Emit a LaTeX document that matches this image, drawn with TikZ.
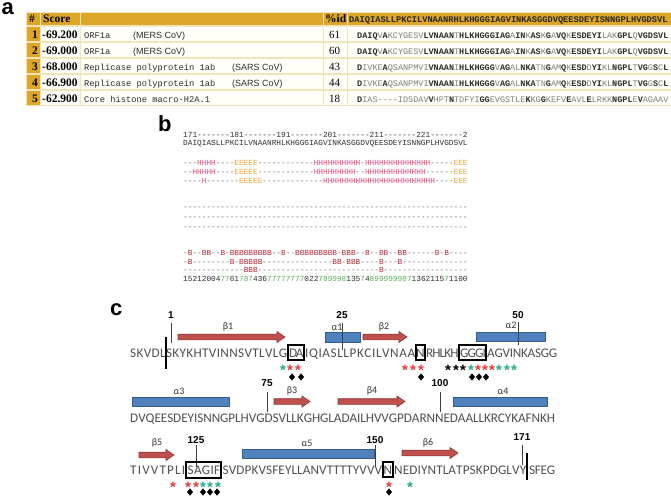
\documentclass[tikz,border=0pt]{standalone}
\usepackage{fontspec}
\setmainfont{Liberation Serif}
\setsansfont{Liberation Sans}
\setmonofont{Liberation Mono}
\newfontfamily\calfont{Carlito}
\usepackage{tikz}

\definecolor{gold}{RGB}{221,166,40}
\definecolor{cellline}{RGB}{242,228,184}
\definecolor{cellfill}{RGB}{255,254,248}
\definecolor{seqdark}{RGB}{45,45,45}
\definecolor{seqlight}{RGB}{125,125,125}
\definecolor{hcol}{RGB}{228,70,125}
\definecolor{ecol}{RGB}{240,160,50}
\definecolor{bcol}{RGB}{180,40,55}
\definecolor{ncol}{RGB}{85,175,85}
\definecolor{dashcol}{RGB}{110,110,110}
\definecolor{seqgray}{RGB}{80,80,80}
\definecolor{strandred}{RGB}{192,80,77}
\definecolor{stranddark}{RGB}{140,56,54}
\definecolor{helixblue}{RGB}{79,129,189}
\definecolor{helixdark}{RGB}{56,93,138}
\definecolor{starred}{RGB}{225,60,60}
\definecolor{starteal}{RGB}{40,170,140}

% residues: capitals bold (identical), small letters light
\def\idloop#1{\ifx#1\relax\else\idchar#1\expandafter\idloop\fi}
\def\idchar#1{\ifnum`#1>`Z\relax{\color{seqlight}\uppercase{#1}}\else\if#1-{\color{seqlight}-}\else{\bfseries\color{seqdark}#1}\fi\fi}
\newcommand\idseq[1]{\idloop#1\relax}
% secondary structure strings
\def\ssloop#1{\ifx#1\relax\else\sschar#1\expandafter\ssloop\fi}
\def\sschar#1{\if#1H\textcolor{hcol}{H}\else\if#1E\textcolor{ecol}{E}\else\if#1B\textcolor{bcol}{B}\else\textcolor{dashcol}{#1}\fi\fi\fi}
\newcommand\ssseq[1]{\ssloop#1\relax}
% reliability digits
\def\nloop#1{\ifx#1\relax\else\nchar#1\expandafter\nloop\fi}
\def\nchar#1{\ifnum`#1>`6\relax\textcolor{ncol}{#1}\else\textcolor{seqdark}{#1}\fi}
\newcommand\numseq[1]{\nloop#1\relax}
% letters spread over a given width
\def\sploop#1{\ifx#1\relax\unskip\else#1\hskip0pt plus1fil minus1fil\relax\expandafter\sploop\fi}
\newcommand\spreadseq[2]{\hbox to #1{\sploop#2\relax}}

\newcommand\strandarrow[3]{%
\draw[strand] (#1,{#3-2.8}) -- ({#2-8},{#3-2.8}) -- ({#2-8},{#3-5.5}) -- (#2,#3)
  -- ({#2-8},{#3+5.5}) -- ({#2-8},{#3+2.8}) -- (#1,{#3+2.8}) -- cycle;}

\begin{document}
\begin{tikzpicture}[x=1pt,y=-1pt,
  lbl/.style={font=\sffamily\bfseries\fontsize{22}{22}\selectfont,inner sep=0pt,anchor=base west},
  hdr/.style={font=\rmfamily\bfseries\fontsize{11.5}{12}\selectfont,inner sep=0pt,anchor=base west},
  pid/.style={font=\rmfamily\fontsize{11}{12}\selectfont,inner sep=0pt,anchor=base west},
  mono/.style={font=\ttfamily\fontsize{8.5}{10}\selectfont,text=seqdark,inner sep=0pt,anchor=base west},
  org/.style={font=\sffamily\fontsize{9}{10}\selectfont,text=seqdark,inner sep=0pt,anchor=base west},
  bmono/.style={font=\ttfamily\fontsize{7.77}{9}\selectfont,inner sep=0pt,anchor=base west},
  cseq/.style={font=\calfont\fontsize{13.2}{15}\selectfont,text=seqgray,inner sep=0pt,anchor=base west},
  resnum/.style={font=\sffamily\bfseries\fontsize{10}{10}\selectfont,inner sep=0pt},
  sslbl/.style={font=\calfont\fontsize{10}{10}\selectfont,inner sep=0pt,text=black!80},
  strand/.style={fill=strandred,draw=stranddark,line width=0.6pt},
  helix/.style={fill=helixblue,draw=helixdark,line width=0.6pt},
  resline/.style={line width=0.6pt,draw=black!75},
  sitebox/.style={draw=black,line width=1.1pt},
  astr/.style={font=\sffamily\bfseries\fontsize{15}{15}\selectfont,inner sep=0pt,anchor=base},
]
\useasboundingbox (0,0) rectangle (671,497);
\fill[white] (0,0) rectangle (671,497);

%% a: hit table
\node[lbl] (la) at (1.5,15) {a};
\fill[cellline] (26,12) rectangle (671,106);
\foreach \xa/\xb in {27/39.5,40.5/79.5,80.5/323,324/347,348/671}
  \fill[gold] (\xa,13) rectangle (\xb,25.5);
\foreach \r in {0,...,4}{
  \fill[gold] (27,{27+16*\r}) rectangle (39.5,{41.5+16*\r});
  \foreach \xa/\xb in {40.5/79.5,80.5/323,324/347,348/671}
    \fill[cellfill] (\xa,{27+16*\r}) rectangle (\xb,{41.5+16*\r});
}
\node[hdr] (hnum) at (29,23) {\#};
\node[hdr] (hscore) at (43,23) {Score};
\node[hdr] (hpid) at (325,23) {\%id};
\node[mono,font=\ttfamily\bfseries\fontsize{8.7}{10}\selectfont,text=black!85] (hseq) at (349,22.5)
  {DAIQIASLLPKCILVNAANRHLKHGGGIAGVINKASGGDVQEESDEYISNNGPLHVGDSVL};
\foreach \r/\sc/\pc in {1/-69.200/61,2/-69.000/60,3/-68.000/43,4/-66.900/44,5/-62.900/18}{
  \node[hdr] (num\r) at (32,{22.5+16*\r}) {\r};
  \node[hdr] (score\r) at (42,{22.5+16*\r}) {\sc};
  \node[pid] (pid\r) at (329,{22.5+16*\r}) {\pc};
}
\node[mono,font=\ttfamily\fontsize{8.75}{10}\selectfont] (desc1) at (84,38.5) {ORF1a};
\node[org] (org1) at (133,38.5) {(MERS CoV)};
\node[mono,font=\ttfamily\fontsize{8.75}{10}\selectfont] (desc2) at (84,54.5) {ORF1a};
\node[org] (org2) at (133,54.5) {(MERS CoV)};
\node[mono,font=\ttfamily\fontsize{8.75}{10}\selectfont] (desc3) at (84,70.5) {Replicase polyprotein 1ab};
\node[org] (org3) at (232,70.5) {(SARS CoV)};
\node[mono,font=\ttfamily\fontsize{8.75}{10}\selectfont] (desc4) at (84,86.5) {Replicase polyprotein 1ab};
\node[org] (org4) at (232,86.5) {(SARS CoV)};
\node[mono,font=\ttfamily\fontsize{8.75}{10}\selectfont] (desc5) at (84,102.5) {Core histone macro-H2A.1};
\node[mono] (seq1) at (357,38.5) {\idseq{DAIQvAkcygesvLVNAANtHLKHGGGIAGaINkASkGaVQkESDEYIlakGPLqVGDSVL}};
\node[mono] (seq2) at (357,54.5) {\idseq{DAIQvAkcygesvLVNAANtHLKHGGGIAGaINkASkGaVQkESDEYIlakGPLqVGDSVL}};
\node[mono] (seq3) at (357,70.5) {\idseq{DivkeAqsanpmviVNAANiHLKHGGGvAGalNKAtnGamQkESDdYIklNGPLtVGgScL}};
\node[mono] (seq4) at (357,86.5) {\idseq{DivkeAqsanpmviVNAANiHLKHGGGvAGalNKAtnGamQkESDdYIklNGPLtVGgScL}};
\node[mono] (seq5) at (357,102.5) {\idseq{Dias----idsdavVhptNtdfyiGGevgstleKkgGkefvEavlElrkkNGPLeVagaav}};

%% b: secondary structure predictions
\node[lbl] (lb) at (158,132) {b};
\node[bmono,text=seqdark] (ruler) at (183,137.5) {171-------181-------191-------201-------211-------221-------2};
\node[bmono,text=seqdark] (query) at (183,146) {DAIQIASLLPKCILVNAANRHLKHGGGIAGVINKASGGDVQEESDEYISNNGPLHVGDSVL};
\node[bmono] (ss1) at (183,166) {\ssseq{---HHHH----EEEEE------------HHHHHHHHHH-HHHHHHHHHHHHHH-----EEE}};
\node[bmono] (ss2) at (183,174.5) {\ssseq{--HHHHH----EEEEE------------HHHHHHHHH--HHHHHHHHHHHHH------EEE}};
\node[bmono] (ss3) at (183,183) {\ssseq{----H-------EEEEE-------------HHHHHHHHHHHHHHHHHHHHHHHH----EEE}};
\foreach \y [count=\k] in {209,219,229}
  \node[bmono,text=dashcol] (dl\k) at (183,\y) {-------------------------------------------------------------};
\node[bmono] (bb1) at (183,255.5) {\ssseq{-B--BB--B-BBBBBBBBB--B--BBBBBBBBB-BBB--B--BB--BB------B-B----}};
\node[bmono] (bb2) at (183,264) {\ssseq{-B--------B-BBBBB---------------BB-BBB----B---B--------------}};
\node[bmono] (bb3) at (183,272.5) {\ssseq{-------------BBB--------------------------B------------------}};
\node[bmono] (rel) at (183,281.5) {\numseq{1521200477617874367777777702278999813574899999987136211571100}};

%% c: annotated sequence
\node[lbl] (lc) at (110,315) {c};
% row 1
\node[cseq] (r1a) at (130,357.5) {\spreadseq{157pt}{SKVDLSKYKHTVINNSVTLVLG}};
\node[cseq] (r1b) at (288.8,357.5) {\spreadseq{14.5pt}{DA}};
\node[cseq] (r1c) at (305,357.5) {\spreadseq{110pt}{IQIASLLPKCILVNAA}};
\node[cseq,anchor=base] (r1d) at (420.5,357.5) {N};
\node[cseq] (r1e) at (425.8,357.5) {\spreadseq{32.7pt}{RHLKH}};
\node[cseq] (r1f) at (459.8,357.5) {\spreadseq{25.8pt}{GGGI}};
\node[cseq] (r1g) at (487,357.5) {\spreadseq{70pt}{AGVINKASGG}};
% row 2
\node[cseq] (r2) at (130,422) {\spreadseq{425pt}{DVQEESDEYISNNGPLHVGDSVLLKGHGLADAILHVVGPDARNNEDAALLKRCYKAFNKH}};
% row 3
\node[cseq] (r3a) at (130,474) {\spreadseq{55pt}{TIVVTPLI}};
\node[cseq] (r3b) at (187.5,474) {\spreadseq{32.5pt}{SAGIF}};
\node[cseq] (r3c) at (222.5,474) {\spreadseq{159.5pt}{SVDPKVSFEYLLANVTTTTYVVV}};
\node[cseq,anchor=base] (r3d) at (388,474) {N};
\node[cseq] (r3e) at (394,474) {\spreadseq{132pt}{NEDIYNTLATPSKPDGLVY}};
\node[cseq] (r3f) at (529,474) {\spreadseq{26pt}{SFEG}};

% strands and helices
\strandarrow{178}{285}{337}
\strandarrow{363}{407}{337}
\strandarrow{274}{310}{401.5}
\strandarrow{338}{405}{401.5}
\strandarrow{139}{174}{455}
\strandarrow{402}{458}{453}
\draw[helix] (325,332) rectangle (360,342);
\draw[helix] (476,332) rectangle (545,341);
\draw[helix] (132,397) rectangle (229,406);
\draw[helix] (453,397) rectangle (547,406);
\draw[helix] (242,449) rectangle (374,458);
\foreach \n/\x/\y/\t in {b1/228/327/β1,a1/337/327/α1,b2/384/327/β2,a2/511/325/α2,
  a3/179/391/α3,b3/292/391/β3,b4/372/391/β4,a4/503/391/α4,b5/157/443/β5,a5/307/443/α5,b6/428/443/β6}
  \node[sslbl] (\n) at (\x,\y) {\t};

% residue numbers
\foreach \t/\x/\y/\ya/\yb in {1/171/315/323/343,25/342/315/323/350,50/518/315/322/345,75/267/383/392/412,
  100/440/383/392/412,125/196/440/445/467,150/375/440/445/467,171/522/437/445/465}{
  \node[resnum] (r\t) at (\x,\y) {\t};
  \draw[resline] (\x,\ya) -- (\x,\yb);
}
\draw[line width=2.2pt] (166,337) -- (166,369);
\draw[line width=2.2pt] (527,453) -- (527,480);

% boxed sites
\draw[sitebox] (288,345) rectangle (304,360);
\draw[sitebox] (416,345) rectangle (425,360);
\draw[sitebox] (459,345) rectangle (486,360);
\draw[sitebox] (186,462) rectangle (221,478);
\draw[sitebox] (383,462) rectangle (393,477);

% conservation marks
\foreach \x/\c [count=\k] in {283/starteal,290/starred,298/starred,405/starred,413/starred,421/starred,
  448/black,456/black,463/black,471/starteal,478/starred,485/starred,492/starred,499/starteal,507/starteal,514/starteal}
  \node[astr,text=\c] (sa\k) at (\x,375.7) {*};
\foreach \x/\c [count=\k] in {173/starred,188/starred,196/starred,203/starteal,210/starteal,218/starteal,389/starred,410/starteal}
  \node[astr,text=\c] (sb\k) at (\x,492.7) {*};
\foreach \x/\y in {292/377,301/377,421/377,472/377,479/377,486/377,190/492,203/492,210/492,217/492,389/492}
  \fill (\x,\y) ++(0,-3.6) -- ++(3,3.6) -- ++(-3,3.6) -- ++(-3,-3.6) -- cycle;

\end{tikzpicture}
\end{document}
